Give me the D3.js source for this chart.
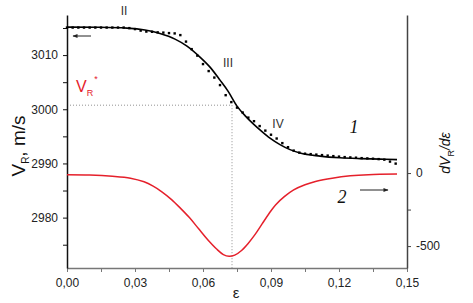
<!DOCTYPE html>
<html><head><meta charset="utf-8">
<script src="https://cdn.jsdelivr.net/npm/d3@7"></script>
<style>
body{margin:0;background:#fff;}
svg{display:block;}
text{font-family:"Liberation Sans",Arial,sans-serif;}
</style></head>
<body><svg id="c" width="473" height="303"></svg>
<script>
// ---- data ----
const fitEps = [0,0.01456,0.02647,0.03441,0.04103,0.04765,0.05294,0.05868,0.06309,0.06750,0.07103,0.07500,0.07853,0.08206,0.08603,0.08956,0.09397,0.09838,0.10279,0.11162,0.12044,0.12926,0.13809,0.14559];
const fitV = [3015.17,3015.13,3014.98,3014.62,3013.97,3012.95,3011.66,3009.63,3007.78,3005.38,3003.35,3000.58,2998.83,2997.35,2995.88,2994.68,2993.48,2992.55,2991.91,2991.35,2991.04,2990.89,2990.80,2990.71];
const expEps = d3.range(0,59).map(k=>k*0.0025);
const expV = [3015.08,3015.08,3015.08,3015.08,3015.08,3015.08,3015.08,3015.08,3015.08,3015.08,3015.08,
 3014.98,3014.8,3014.52,3014.34,3014.3,3014.2,3014.15,3014.06,3014.0,3013.69,3012.49,3011.1,3009.9,3008.34,
 3007.05,3005.85,3004.46,3002.6,3001.32,3000.3,2999.4,2998.46,2997.8,2996.9,2996.06,2995.3,2994.6,2993.75,
 2993.0,2992.37,2992.0,2991.8,2991.72,2991.63,2991.54,2991.45,2991.35,2991.26,2991.17,2991.11,2991.06,2990.98,
 2990.93,2990.87,2990.8,2990.7,2990.34,2989.97];
const derEps = [0,0.01,0.02,0.028,0.034,0.038,0.042,0.046,0.05,0.054,0.058,0.062,0.066,0.069,0.0715,0.074,0.077,0.08,0.083,0.086,0.089,0.092,0.096,0.1,0.105,0.11,0.117,0.125,0.133,0.1456];
const derD = [-12,-14,-22,-35,-60,-90,-130,-180,-240,-305,-380,-455,-520,-558,-570,-562,-530,-480,-420,-350,-280,-218,-160,-115,-80,-56,-35,-19,-11,-7];
const xTicks = [0,0.03,0.06,0.09,0.12,0.15];
const xTickLabels = ["0,00","0,03","0,06","0,09","0,12","0,15"];
const yLeftTicks = [2980,2990,3000,3010];
const yRightTicks = [-500,0];
const refEps = 0.0728, refV = 3000.75;

// ---- scales ----
const svg = d3.select("#c");
const x = d3.scaleLinear().domain([0,0.15]).range([67,407]);
const yL = d3.scaleLinear().domain([2970.7,3017.4]).range([268,15]);
const yR = d3.scaleLinear().domain([-650,1082]).range([268,15]);
const red = "#e5202b";

// guide dotted lines
svg.append("line").attr("x1",x(0)).attr("x2",x(refEps)).attr("y1",yL(refV)).attr("y2",yL(refV))
  .attr("stroke","#777").attr("stroke-width",0.8).attr("stroke-dasharray","1,2");
svg.append("line").attr("x1",x(refEps)).attr("x2",x(refEps)).attr("y1",yL(refV)).attr("y2",268)
  .attr("stroke","#777").attr("stroke-width",0.8).attr("stroke-dasharray","1,2");

// axes
function styleAxis(g,color){
  g.select(".domain").attr("stroke",color).attr("stroke-width",1.5);
  g.selectAll(".tick line").attr("stroke",color).attr("stroke-width",1);
  g.selectAll(".tick text").attr("fill","#222").style("font-size","12px").style("font-family","'Liberation Sans',Arial,sans-serif");
}
const gx = svg.append("g").attr("transform","translate(0,268)")
  .call(d3.axisBottom(x).tickValues(xTicks).tickFormat((d,i)=>xTickLabels[i]).tickSize(4).tickSizeOuter(0).tickPadding(6));
styleAxis(gx,"#777");
svg.append("g").attr("transform","translate(0,268)")
  .call(d3.axisBottom(x).tickValues(d3.range(0.015,0.15,0.03)).tickFormat("").tickSize(4).tickSizeOuter(0))
  .call(g=>{g.select(".domain").remove();g.selectAll("line").attr("stroke","#777");});

const gl = svg.append("g").attr("transform","translate(67,0)")
  .call(d3.axisLeft(yL).tickValues(yLeftTicks).tickFormat(d3.format("d")).tickSize(4).tickSizeOuter(0).tickPadding(5));
styleAxis(gl,"#111");
svg.append("g").attr("transform","translate(67,0)")
  .call(d3.axisLeft(yL).tickValues([2975,2985,2995,3005,3015]).tickFormat("").tickSize(4).tickSizeOuter(0))
  .call(g=>{g.select(".domain").remove();g.selectAll("line").attr("stroke","#111");});

const gr = svg.append("g").attr("transform","translate(407,0)")
  .call(d3.axisRight(yR).tickValues(yRightTicks).tickFormat(d3.format("d")).tickSize(4).tickSizeOuter(0).tickPadding(5));
styleAxis(gr,"#444");
gr.selectAll(".tick text").text(d=>d<0?"-"+Math.abs(d):d);
svg.append("g").attr("transform","translate(407,0)")
  .call(d3.axisRight(yR).tickValues([-250]).tickFormat("").tickSize(4).tickSizeOuter(0))
  .call(g=>{g.select(".domain").remove();g.selectAll("line").attr("stroke","#444");});

// curves
const fit = fitEps.map((e,i)=>[e,fitV[i]]);
svg.append("path").datum(fit).attr("fill","none").attr("stroke","#000").attr("stroke-width",1.6)
  .attr("d",d3.line().x(d=>x(d[0])).y(d=>yL(d[1])).curve(d3.curveMonotoneX));
const der = derEps.map((e,i)=>[e,derD[i]]);
svg.append("path").datum(der).attr("fill","none").attr("stroke",red).attr("stroke-width",1.5)
  .attr("d",d3.line().x(d=>x(d[0])).y(d=>yR(d[1])).curve(d3.curveCatmullRom.alpha(0.5)));
svg.append("g").selectAll("rect").data(expEps.map((e,i)=>[e,expV[i]])).join("rect")
  .attr("x",d=>x(d[0])-1.2).attr("y",d=>yL(d[1])-1.2).attr("width",2.4).attr("height",2.4).attr("fill","#000");

// labels
function t(xp,yp,s,size,opts={}){
  const el = svg.append("text").attr("x",xp).attr("y",yp).style("font-size",size+"px").text(s);
  if(opts.fill) el.attr("fill",opts.fill);
  if(opts.anchor) el.attr("text-anchor",opts.anchor);
  if(opts.font) el.style("font-family",opts.font);
  if(opts.italic) el.style("font-style","italic");
  return el;
}
t(124,15,"II",12,{fill:"#333",anchor:"middle"});
t(228,67,"III",12,{fill:"#333",anchor:"middle"});
t(278,128,"IV",12,{fill:"#333",anchor:"middle"});
t(354,133,"1",18,{fill:"#111",anchor:"middle",font:"'Liberation Serif','Times New Roman',serif",italic:true});
t(342,203,"2",18,{fill:"#111",anchor:"middle",font:"'Liberation Serif','Times New Roman',serif",italic:true});
t(236,298,"ε",15,{fill:"#222",anchor:"middle"});

// V_R* red
const vr = svg.append("text").attr("x",76).attr("y",92).attr("fill",red).style("font-size","16px");
vr.append("tspan").text("V");
vr.append("tspan").attr("dy",4).style("font-size","9px").text("R");
vr.append("tspan").attr("dy",-14).attr("dx",1).style("font-size","9px").text("*");

// left y label
const yl = svg.append("text").attr("transform","translate(25,146) rotate(-90)").attr("text-anchor","middle")
  .attr("fill","#111").style("font-size","19px");
yl.append("tspan").text("V");
yl.append("tspan").attr("dy",4).style("font-size","10px").text("R");
yl.append("tspan").attr("dy",-4).text(", m/s");

// right y label
const yr = svg.append("text").attr("transform","translate(450,153) rotate(-90)").attr("text-anchor","middle")
  .attr("fill","#111").style("font-size","14px");
yr.append("tspan").style("font-style","italic").text("dV");
yr.append("tspan").attr("dy",4).style("font-size","9px").text("R");
yr.append("tspan").attr("dy",-4).style("font-style","italic").text("/dε");

// arrows
svg.append("defs").append("marker").attr("id","ah").attr("viewBox","0 0 10 10").attr("refX",9).attr("refY",5)
  .attr("markerWidth",6).attr("markerHeight",5).attr("orient","auto-start-reverse")
  .append("path").attr("d","M0,1 L10,5 L0,9 Z").attr("fill","#222");
svg.append("line").attr("x1",91).attr("x2",73).attr("y1",36).attr("y2",36).attr("stroke","#222").attr("stroke-width",1).attr("marker-end","url(#ah)");
svg.append("line").attr("x1",360).attr("x2",388).attr("y1",190).attr("y2",190).attr("stroke","#222").attr("stroke-width",1).attr("marker-end","url(#ah)");
</script></body></html>
